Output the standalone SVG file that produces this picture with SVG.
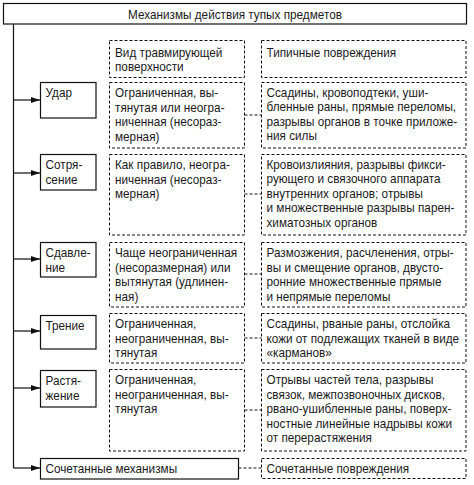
<svg xmlns="http://www.w3.org/2000/svg" width="474" height="485" viewBox="0 0 474 485">
<defs>
<marker id="ah" markerWidth="9" markerHeight="6" refX="9" refY="3" orient="auto" markerUnits="userSpaceOnUse">
<path d="M0,0 L9,3 L0,6 Z" fill="#111"/>
</marker>
<style>
text{font-family:"Liberation Sans",Arial,sans-serif;font-size:12.5px;fill:#1a1a1a}
.s{fill:#fff;stroke:#111;stroke-width:1.2}
.d{fill:#fff;stroke:#111;stroke-width:1;stroke-dasharray:3 2}
.c{fill:none;stroke:#111;stroke-width:1;stroke-dasharray:3 2}
.a{fill:none;stroke:#111;stroke-width:1.2}
</style>
</defs>
<rect width="474" height="485" fill="#fff"/>
<g id="title">
<rect class="s" x="3.5" y="3.5" width="463" height="20.5"/>
<g transform="translate(235,0) scale(0.94,1)"><text x="0" y="19" text-anchor="middle">Механизмы действия тупых предметов</text></g>
</g>
<g id="connectors">
<line class="a" x1="13.5" y1="24" x2="13.5" y2="468"/>
<line class="a" x1="13.5" y1="100" x2="40" y2="100" marker-end="url(#ah)"/>
<line class="a" x1="13.5" y1="173" x2="40" y2="173" marker-end="url(#ah)"/>
<line class="a" x1="13.5" y1="259" x2="40" y2="259" marker-end="url(#ah)"/>
<line class="a" x1="13.5" y1="331" x2="40" y2="331" marker-end="url(#ah)"/>
<line class="a" x1="13.5" y1="388" x2="40" y2="388" marker-end="url(#ah)"/>
<line class="a" x1="13.5" y1="468" x2="40" y2="468" marker-end="url(#ah)"/>
<line class="c" x1="244.5" y1="115" x2="261.5" y2="115"/>
<line class="c" x1="244.5" y1="194" x2="261.5" y2="194"/>
<line class="c" x1="244.5" y1="274" x2="261.5" y2="274"/>
<line class="c" x1="244.5" y1="338" x2="261.5" y2="338"/>
<line class="c" x1="244.5" y1="410" x2="261.5" y2="410"/>
<line class="c" x1="238.5" y1="468" x2="261.5" y2="468"/>
</g>
<g id="head-surface">
<rect class="d" x="109.5" y="40.5" width="135" height="37"/>
<g transform="translate(115,0) scale(0.94,1)">
<text x="0" y="57">Вид травмирующей</text>
<text x="0" y="71.5">поверхности</text>
</g>
</g>
<g id="head-damage">
<rect class="d" x="261.5" y="40.5" width="204.5" height="37"/>
<g transform="translate(266.5,0) scale(0.94,1)">
<text x="0" y="57">Типичные повреждения</text>
</g>
</g>
<g id="udar">
<rect class="s" x="40.5" y="82.5" width="55.5" height="35.5"/>
<g transform="translate(45.5,0) scale(0.94,1)">
<text x="0" y="97.5">Удар</text>
</g>
</g>
<g id="udar-surface">
<rect class="d" x="109.5" y="82.5" width="135" height="65.5"/>
<g transform="translate(115,0) scale(0.94,1)">
<text x="0" y="97.5">Ограниченная, вы-</text>
<text x="0" y="111.9">тянутая или неогра-</text>
<text x="0" y="126.3">ниченная (несораз-</text>
<text x="0" y="140.7">мерная)</text>
</g>
</g>
<g id="udar-damage">
<rect class="d" x="261.5" y="82.5" width="204.5" height="65.5"/>
<g transform="translate(266.5,0) scale(0.94,1)">
<text x="0" y="97">Ссадины, кровоподтеки, уши-</text>
<text x="0" y="111.4">бленные раны, прямые переломы,</text>
<text x="0" y="125.8">разрывы органов в точке приложе-</text>
<text x="0" y="140.2">ния силы</text>
</g>
</g>
<g id="sotr">
<rect class="s" x="40.5" y="154.5" width="55.5" height="35.5"/>
<g transform="translate(45.5,0) scale(0.94,1)">
<text x="0" y="169.5">Сотря-</text>
<text x="0" y="183.9">сение</text>
</g>
</g>
<g id="sotr-surface">
<rect class="d" x="109.5" y="154.5" width="135" height="80.5"/>
<g transform="translate(115,0) scale(0.94,1)">
<text x="0" y="169.5">Как правило, неогра-</text>
<text x="0" y="183.9">ниченная (несораз-</text>
<text x="0" y="198.3">мерная)</text>
</g>
</g>
<g id="sotr-damage">
<rect class="d" x="261.5" y="154.5" width="204.5" height="80.5"/>
<g transform="translate(266.5,0) scale(0.94,1)">
<text x="0" y="169">Кровоизлияния, разрывы фикси-</text>
<text x="0" y="183.4">рующего и связочного аппарата</text>
<text x="0" y="197.8">внутренних органов; отрывы</text>
<text x="0" y="212.2">и множественные разрывы парен-</text>
<text x="0" y="226.6">химатозных органов</text>
</g>
</g>
<g id="sdav">
<rect class="s" x="40.5" y="242.5" width="55.5" height="34.5"/>
<g transform="translate(45.5,0) scale(0.94,1)">
<text x="0" y="257.5">Сдавле-</text>
<text x="0" y="271.9">ние</text>
</g>
</g>
<g id="sdav-surface">
<rect class="d" x="109.5" y="242.5" width="135" height="64.5"/>
<g transform="translate(115,0) scale(0.94,1)">
<text x="0" y="257.5">Чаще неограниченная</text>
<text x="0" y="271.9">(несоразмерная) или</text>
<text x="0" y="286.3">вытянутая (удлинен-</text>
<text x="0" y="300.7">ная)</text>
</g>
</g>
<g id="sdav-damage">
<rect class="d" x="261.5" y="242.5" width="204.5" height="64.5"/>
<g transform="translate(266.5,0) scale(0.94,1)">
<text x="0" y="257.5">Размозжения, расчленения, отры-</text>
<text x="0" y="271.9">вы и смещение органов, двусто-</text>
<text x="0" y="286.3">ронние множественные прямые</text>
<text x="0" y="300.7">и непрямые переломы</text>
</g>
</g>
<g id="trenie">
<rect class="s" x="40.5" y="315.5" width="55.5" height="33.5"/>
<g transform="translate(45.5,0) scale(0.94,1)">
<text x="0" y="330">Трение</text>
</g>
</g>
<g id="trenie-surface">
<rect class="d" x="109.5" y="313.5" width="135" height="49.5"/>
<g transform="translate(115,0) scale(0.94,1)">
<text x="0" y="328.5">Ограниченная,</text>
<text x="0" y="342.9">неограниченная, вы-</text>
<text x="0" y="357.3">тянутая</text>
</g>
</g>
<g id="trenie-damage">
<rect class="d" x="261.5" y="313.5" width="204.5" height="49.5"/>
<g transform="translate(266.5,0) scale(0.94,1)">
<text x="0" y="328.5">Ссадины, рваные раны, отслойка</text>
<text x="0" y="342.9">кожи от подлежащих тканей в виде</text>
<text x="0" y="357.3">«карманов»</text>
</g>
</g>
<g id="rast">
<rect class="s" x="40.5" y="370.5" width="55.5" height="36.5"/>
<g transform="translate(45.5,0) scale(0.94,1)">
<text x="0" y="385.5">Растя-</text>
<text x="0" y="399.9">жение</text>
</g>
</g>
<g id="rast-surface">
<rect class="d" x="109.5" y="369.5" width="135" height="81.5"/>
<g transform="translate(115,0) scale(0.94,1)">
<text x="0" y="384.5">Ограниченная,</text>
<text x="0" y="398.9">неограниченная, вы-</text>
<text x="0" y="413.3">тянутая</text>
</g>
</g>
<g id="rast-damage">
<rect class="d" x="261.5" y="369.5" width="204.5" height="81.5"/>
<g transform="translate(266.5,0) scale(0.94,1)">
<text x="0" y="384.5">Отрывы частей тела, разрывы</text>
<text x="0" y="398.9">связок, межпозвоночных дисков,</text>
<text x="0" y="413.3">рвано-ушибленные раны, поверх-</text>
<text x="0" y="427.7">ностные линейные надрывы кожи</text>
<text x="0" y="442.1">от перерастяжения</text>
</g>
</g>
<g id="combined">
<rect class="s" x="40.5" y="458.5" width="198" height="20.5"/>
<g transform="translate(45.5,0) scale(0.94,1)">
<text x="0" y="473">Сочетанные механизмы</text>
</g>
</g>
<g id="combined-damage">
<rect class="d" x="261.5" y="458.5" width="204.5" height="20"/>
<g transform="translate(266.5,0) scale(0.94,1)">
<text x="0" y="473">Сочетанные повреждения</text>
</g>
</g>
</svg>
